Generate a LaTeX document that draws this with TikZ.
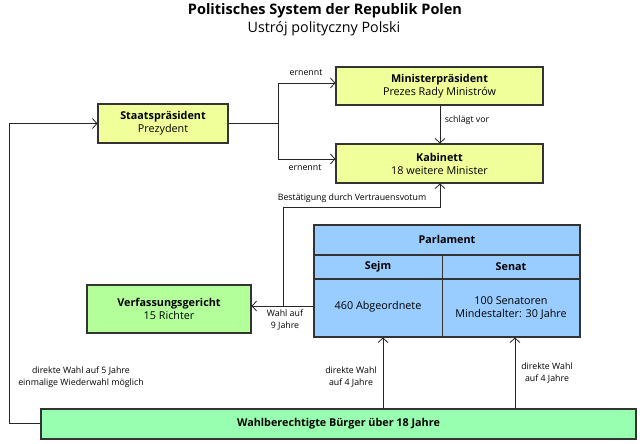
\documentclass[tikz,border=0pt]{standalone}
\usepackage{fontspec}
\setmainfont{Open Sans}
\usetikzlibrary{arrows.meta}
\definecolor{cyel}{HTML}{F0FF99}
\definecolor{cgrn}{HTML}{B3FF99}
\definecolor{cblu}{HTML}{99CCFF}
\definecolor{cmint}{HTML}{99FFB0}
\definecolor{cedge}{HTML}{333333}
\begin{document}
\begin{tikzpicture}[x=1pt,y=-1pt,
  boxstyle/.style={draw=cedge,line width=1.1pt,inner sep=0pt,align=center,font=\fontsize{10.8}{13}\selectfont},
  arr/.style={-{Straight Barb[length=4.5pt,width=10pt,line width=0.8pt]},line width=0.8pt,draw=black!85},
  lbl/.style={font=\fontsize{8.8}{12}\selectfont,align=center,inner sep=0pt},
  ttl/.style={font=\fontsize{14.3}{16}\selectfont,inner sep=0pt}]
\useasboundingbox (0,0) rectangle (640,444);
% title
\node[ttl,font=\fontsize{14.5}{16}\selectfont\bfseries] (t1) at (325,11) {Politisches System der Republik Polen};
\node[ttl] (t2) at (324,29) {Ustrój polityczny Polski};
% boxes
\node[boxstyle,fill=cyel,minimum width=130pt,minimum height=39pt] (sp) at (163,123.5) {\textbf{Staatspräsident}\\Prezydent};
\node[boxstyle,fill=cyel,minimum width=207pt,minimum height=38pt] (mp) at (439.5,86) {\textbf{Ministerpräsident}\\Prezes Rady Ministrów};
\node[boxstyle,fill=cyel,minimum width=207pt,minimum height=39pt] (kab) at (439.5,163.5) {\textbf{Kabinett}\\18 weitere Minister};
\node[boxstyle,fill=cgrn,minimum width=164pt,minimum height=48pt] (vg) at (169,309) {\textbf{Verfassungsgericht}\\15 Richter};
\node[boxstyle,fill=cblu,minimum width=266pt,minimum height=112pt] (parl) at (447,281) {};
\node[boxstyle,fill=cmint,minimum width=595pt,minimum height=30pt] (wb) at (338.5,424) {\textbf{Wahlberechtigte Bürger über 18 Jahre}};
% parliament internals
\draw[cedge,line width=1.1pt] (parl.west |- 0,255) -- (parl.east |- 0,255);
\draw[cedge,line width=1.1pt] (parl.west |- 0,279) -- (parl.east |- 0,279);
\draw[cedge,line width=0.9pt] (442,255) -- (442,337);
\node[boxstyle,draw=none] (parlt) at (447,239) {\textbf{Parlament}};
\node[boxstyle,draw=none] (sejm) at (378,267) {\textbf{Sejm}};
\node[boxstyle,draw=none] (senat) at (511,267) {\textbf{Senat}};
\node[boxstyle,draw=none] (sejmt) at (378,307) {460 Abgeordnete};
\node[boxstyle,draw=none] (senatt) at (511,308) {100 Senatoren\\Mindestalter: 30 Jahre};
% connectors
\coordinate (j) at (278,123.5);
\draw[line width=0.8pt,draw=black!85] (sp.east) -- (j);
\draw[arr] (j) |- (mp.west |- 0,83);
\draw[arr] (j) |- (kab.west |- 0,159);
\draw[arr] (mp.south -| 440,0) -- (kab.north -| 440,0);
\coordinate (b) at (283,306);
\draw[arr] (parl.west |- b) -- (vg.east |- b);
\draw[arr] (b) -- (283,207) -| (kab.south -| 440,0);
\coordinate (l) at (9,423);
\draw[line width=0.8pt,draw=black!85] (wb.west |- l) -- (l);
\draw[arr] (l) |- (sp.west);
\draw[arr] (wb.north -| 383,0) -- (parl.south -| 383,0);
\draw[arr] (wb.north -| 515,0) -- (parl.south -| 515,0);
% labels
\node[lbl] (e1) at (306,73) {ernennt};
\node[lbl] (e2) at (305,168) {ernennt};
\node[lbl] (sv) at (467,120) {schlägt vor};
\node[lbl] (bv) at (352,198) {Bestätigung durch Vertrauensvotum};
\node[lbl] (w9) at (285,320) {Wahl auf\\9 Jahre};
\node[lbl] (w5) at (81,377) {direkte Wahl auf 5 Jahre\\einmalige Wiederwahl möglich};
\node[lbl] (w4a) at (351,377) {direkte Wahl\\auf 4 Jahre};
\node[lbl] (w4b) at (547,373) {direkte Wahl\\auf 4 Jahre};
\end{tikzpicture}
\end{document}
